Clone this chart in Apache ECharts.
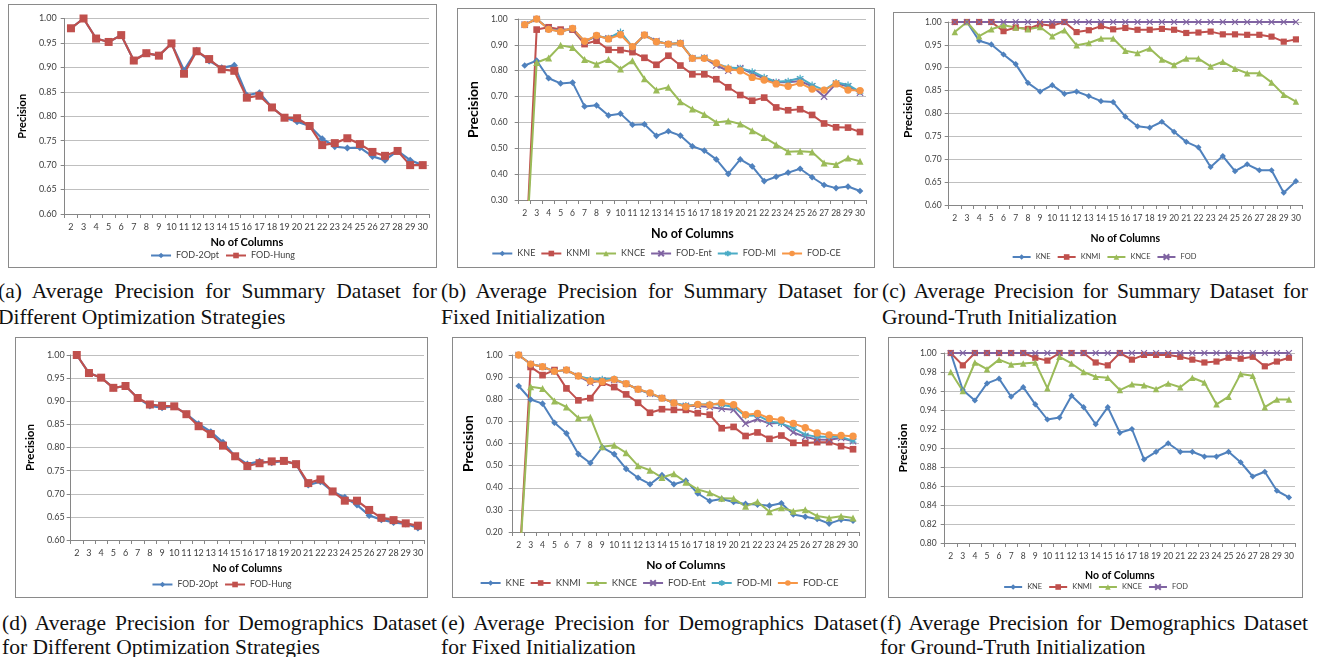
<!DOCTYPE html>
<html><head><meta charset="utf-8">
<script src="https://cdn.jsdelivr.net/npm/echarts@6/dist/echarts.min.js"></script>
<style>
body{margin:0;width:1318px;height:657px;background:#fff;position:relative;overflow:hidden}
.box{position:absolute;border:1px solid #8a8a8a;box-sizing:border-box;background:#fff}
.cap{position:absolute;font-family:"Liberation Serif","Tinos","DejaVu Serif",serif;font-size:21.5px;color:#111;line-height:24px;white-space:nowrap}
.j{text-align:justify;text-align-last:justify;white-space:normal}
</style></head><body>
<div id="pa" class="box" style="left:8px;top:4px;width:429px;height:264px"></div>
<div id="pb" class="box" style="left:457px;top:8px;width:418px;height:260px"></div>
<div id="pc" class="box" style="left:893px;top:12px;width:422px;height:256px"></div>
<div id="pd" class="box" style="left:15px;top:337px;width:413px;height:261px"></div>
<div id="pe" class="box" style="left:452px;top:337px;width:414px;height:261px"></div>
<div id="pf" class="box" style="left:888px;top:337px;width:415px;height:261px"></div>

<div class="cap j" style="left:-2px;top:279px;width:439px">(a) Average Precision for Summary Dataset for</div>
<div class="cap" style="left:-2px;top:305px">Different Optimization Strategies</div>
<div class="cap j" style="left:441px;top:279px;width:437px">(b) Average Precision for Summary Dataset for</div>
<div class="cap" style="left:441px;top:305px">Fixed Initialization</div>
<div class="cap j" style="left:882px;top:279px;width:426px">(c) Average Precision for Summary Dataset for</div>
<div class="cap" style="left:882px;top:305px">Ground-Truth Initialization</div>
<div class="cap j" style="left:2px;top:611px;width:435px">(d) Average Precision for Demographics Dataset</div>
<div class="cap" style="left:2px;top:635px">for Different Optimization Strategies</div>
<div class="cap j" style="left:441px;top:611px;width:437px">(e) Average Precision for Demographics Dataset</div>
<div class="cap" style="left:441px;top:635px">for Fixed Initialization</div>
<div class="cap j" style="left:880px;top:611px;width:428px">(f) Average Precision for Demographics Dataset</div>
<div class="cap" style="left:880px;top:635px">for Ground-Truth Initialization</div>

<script>
const categories = ['2','3','4','5','6','7','8','9','10','11','12','13','14','15','16','17','18','19','20','21','22','23','24','25','26','27','28','29','30'];

// (a) Summary dataset, optimization strategies
const aOpt  = [0.980,1.000,0.959,0.952,0.966,0.914,0.929,0.924,0.949,0.894,0.935,0.913,0.899,0.904,0.843,0.848,0.818,0.797,0.789,0.780,0.754,0.738,0.735,0.736,0.718,0.710,0.729,0.710,0.700];
const aHung = [0.980,1.000,0.959,0.952,0.966,0.914,0.929,0.924,0.949,0.887,0.933,0.917,0.896,0.893,0.838,0.842,0.818,0.797,0.796,0.780,0.741,0.745,0.755,0.743,0.727,0.719,0.729,0.700,0.700];

// (b) Summary dataset, fixed initialization
const bKNE  = [0.820,0.839,0.771,0.751,0.754,0.662,0.666,0.627,0.634,0.591,0.593,0.548,0.566,0.549,0.508,0.491,0.457,0.401,0.457,0.430,0.373,0.390,0.406,0.421,0.388,0.358,0.346,0.352,0.335];
const bKNMI = [0,0.959,0.968,0.959,0.959,0.903,0.916,0.881,0.880,0.872,0.850,0.823,0.858,0.820,0.786,0.786,0.767,0.736,0.706,0.684,0.696,0.658,0.647,0.651,0.629,0.596,0.581,0.580,0.563];
const bKNCE = [0,0.832,0.849,0.898,0.890,0.843,0.825,0.843,0.807,0.839,0.769,0.725,0.736,0.680,0.652,0.631,0.600,0.606,0.594,0.568,0.542,0.514,0.487,0.489,0.486,0.443,0.437,0.462,0.450];
const bEnt  = [0.978,1.000,0.962,0.953,0.962,0.912,0.934,0.925,0.945,0.891,0.938,0.915,0.902,0.907,0.848,0.850,0.820,0.800,0.810,0.790,0.770,0.755,0.755,0.760,0.740,0.700,0.750,0.740,0.715];
const bMI   = [0.978,1.000,0.961,0.952,0.963,0.913,0.935,0.926,0.950,0.892,0.937,0.914,0.903,0.908,0.849,0.851,0.828,0.812,0.810,0.797,0.775,0.757,0.760,0.772,0.745,0.725,0.755,0.745,0.718];
const bCE   = [0.978,1.000,0.960,0.951,0.964,0.914,0.936,0.923,0.939,0.893,0.938,0.912,0.903,0.906,0.848,0.848,0.830,0.807,0.800,0.774,0.764,0.749,0.740,0.752,0.729,0.725,0.749,0.725,0.723];

// (c) Summary dataset, ground-truth initialization
const cKNE  = [1.000,1.000,0.959,0.951,0.929,0.908,0.867,0.848,0.862,0.843,0.848,0.838,0.827,0.825,0.793,0.772,0.769,0.782,0.760,0.738,0.726,0.683,0.707,0.674,0.689,0.676,0.676,0.627,0.652];
const cKNMI = [1.000,1.000,1.000,1.000,0.980,0.988,0.985,0.995,0.992,1.000,0.978,0.982,0.991,0.984,0.987,0.983,0.983,0.985,0.983,0.976,0.977,0.979,0.973,0.973,0.972,0.972,0.968,0.957,0.962];
const cKNCE = [0.978,1.000,0.969,0.984,0.993,0.988,0.984,0.989,0.969,0.982,0.949,0.954,0.964,0.964,0.937,0.932,0.942,0.918,0.906,0.920,0.920,0.903,0.913,0.898,0.888,0.888,0.868,0.841,0.826];
const cFOD  = [1,1,1,1,1,1,1,1,1,1,1,1,1,1,1,1,1,1,1,1,1,1,1,1,1,1,1,1,1];

// (d) Demographics dataset, optimization strategies
const dOpt  = [1.000,0.961,0.951,0.929,0.933,0.907,0.890,0.886,0.889,0.872,0.851,0.834,0.811,0.781,0.764,0.770,0.767,0.771,0.764,0.719,0.726,0.705,0.692,0.676,0.653,0.644,0.638,0.635,0.626];
const dHung = [1.000,0.961,0.951,0.929,0.933,0.907,0.893,0.890,0.889,0.872,0.846,0.829,0.804,0.781,0.760,0.766,0.770,0.771,0.764,0.723,0.731,0.705,0.685,0.685,0.665,0.648,0.643,0.636,0.631];

// (e) Demographics dataset, fixed initialization
const eKNE  = [0.860,0.799,0.780,0.694,0.646,0.552,0.512,0.583,0.552,0.485,0.445,0.416,0.457,0.416,0.432,0.374,0.340,0.349,0.336,0.327,0.324,0.319,0.330,0.279,0.269,0.259,0.238,0.256,0.251];
const eKNMI = [0,0.946,0.909,0.932,0.849,0.795,0.805,0.875,0.855,0.822,0.784,0.739,0.755,0.752,0.752,0.737,0.730,0.669,0.675,0.634,0.650,0.621,0.636,0.603,0.602,0.606,0.606,0.588,0.574];
const eKNCE = [0,0.857,0.849,0.792,0.765,0.715,0.719,0.585,0.592,0.558,0.499,0.479,0.446,0.463,0.425,0.392,0.377,0.352,0.351,0.316,0.337,0.292,0.310,0.294,0.301,0.272,0.263,0.271,0.263];
const eEnt  = [1.000,0.959,0.947,0.926,0.932,0.905,0.875,0.886,0.887,0.870,0.845,0.825,0.805,0.783,0.770,0.770,0.765,0.757,0.752,0.690,0.710,0.690,0.694,0.650,0.630,0.618,0.617,0.625,0.610];
const eMI   = [1.000,0.959,0.947,0.926,0.932,0.905,0.890,0.891,0.892,0.870,0.845,0.827,0.805,0.783,0.772,0.775,0.778,0.775,0.765,0.725,0.727,0.700,0.690,0.670,0.640,0.630,0.630,0.630,0.612];
const eCE   = [1.000,0.959,0.947,0.926,0.932,0.905,0.882,0.879,0.890,0.870,0.845,0.829,0.805,0.783,0.766,0.777,0.774,0.784,0.775,0.730,0.736,0.713,0.706,0.691,0.671,0.648,0.639,0.636,0.633];

// (f) Demographics dataset, ground-truth initialization
const fKNE  = [1.000,0.961,0.950,0.968,0.973,0.954,0.964,0.946,0.930,0.932,0.955,0.943,0.925,0.943,0.916,0.920,0.888,0.896,0.905,0.896,0.896,0.891,0.891,0.896,0.885,0.870,0.875,0.855,0.848];
const fKNMI = [1.000,0.987,1.000,1.000,1.000,1.000,1.000,0.995,0.992,1.000,1.000,1.000,0.990,0.987,1.000,0.993,0.998,0.998,0.998,0.996,0.993,0.990,0.991,0.995,0.994,0.996,0.986,0.991,0.995];
const fKNCE = [0.980,0.960,0.990,0.983,0.993,0.988,0.989,0.990,0.963,0.996,0.989,0.980,0.975,0.974,0.961,0.967,0.966,0.962,0.968,0.964,0.974,0.969,0.946,0.954,0.978,0.976,0.943,0.951,0.951];
const fFOD  = [1,1,1,1,1,1,1,1,1,1,1,1,1,1,1,1,1,1,1,1,1,1,1,1,1,1,1,1,1];

const X_PATH = 'path://M0,0L10,10M0,10L10,0';
const STAR_PATH = 'path://M5,0L5,10M0,2.5L10,7.5M0,7.5L10,2.5';
const STYLES = {
  'FOD-2Opt': {color:'#4F81BD', symbol:'diamond', k:0.9},
  'FOD-Hung': {color:'#C0504D', symbol:'rect', k:1},
  'KNE':  {color:'#4F81BD', symbol:'diamond', k:0.95},
  'KNMI': {color:'#C0504D', symbol:'rect', k:0.95},
  'KNCE': {color:'#9BBB59', symbol:'triangle', k:1},
  'FOD-Ent': {color:'#8064A2', symbol:X_PATH, k:0.9, stroke:true},
  'FOD-MI':  {color:'#4BACC6', symbol:STAR_PATH, k:0.95, stroke:true},
  'FOD-CE':  {color:'#F79646', symbol:'circle', k:1.05},
  'FOD':     {color:'#8064A2', symbol:X_PATH, k:0.9, stroke:true}
};
const FONT = 'Lato, "Open Sans", sans-serif';

function panel(id, p) {
  const chart = echarts.init(document.getElementById(id), null, {renderer:'canvas'});
  const series = p.series.map(s => {
    const st = STYLES[s.name];
    return {
      name: s.name, type: 'line', data: s.data,
      symbol: st.symbol, symbolSize: p.sym * st.k, showSymbol: true,
      lineStyle: {color: st.color, width: p.lw},
      itemStyle: st.stroke ? {color: st.color, borderColor: st.color, borderWidth: 1.2} : {color: st.color},
      emphasis: {disabled: true}, clip: true, animation: false
    };
  });
  chart.setOption({
    animation: false,
    textStyle: {fontFamily: FONT},
    grid: {left: p.grid[0], top: p.grid[1], width: p.grid[2], height: p.grid[3], containLabel: false},
    legend: {
      top: p.legendTop, left: 'center', itemWidth: p.legendW, itemHeight: p.legendH || 7, itemGap: p.legendGap,
      textStyle: {fontSize: p.legendFs, color: '#404040', fontFamily: FONT},
      data: p.series.map(s => s.name)
    },
    xAxis: {
      type: 'category', data: categories, boundaryGap: true,
      name: 'No of Columns', nameLocation: 'middle', nameGap: p.xGap,
      nameTextStyle: {fontSize: p.titleFsX, fontWeight: 'bold', color: '#000', fontFamily: FONT},
      axisLine: {show: true, lineStyle: {color: '#868686', width: 1}},
      axisTick: {show: true, length: 4, interval: 0, lineStyle: {color: '#868686'}},
      axisLabel: {interval: 0, fontSize: p.tickFs, color: '#404040', margin: p.xMargin || 9, fontFamily: FONT},
      splitLine: {show: false}
    },
    yAxis: {
      type: 'value', min: p.y[0], max: p.y[1], interval: p.y[2],
      name: 'Precision', nameLocation: 'middle', nameGap: p.yGap,
      nameTextStyle: {fontSize: p.titleFsY, fontWeight: 'bold', color: '#000', fontFamily: FONT},
      axisLine: {show: true, lineStyle: {color: '#868686', width: 1}},
      axisTick: {show: true, length: 4, lineStyle: {color: '#868686'}},
      axisLabel: {fontSize: p.tickFs, color: '#404040', margin: p.yMargin || 8, fontFamily: FONT,
                  formatter: v => v.toFixed(2)},
      splitLine: {show: true, lineStyle: {color: '#BFBFBF', width: 1}}
    },
    series: series
  });
}

panel('pa', {grid:[47,13.5,373,195.5], y:[0.6,1.0,0.05], sym:8, lw:2.2, tickFs:9, titleFsX:11, titleFsY:11,
  xGap:21, yGap:26, yMargin:8, legendTop:241, legendFs:9, legendW:20, legendGap:6,
  series:[{name:'FOD-2Opt', data:aOpt},{name:'FOD-Hung', data:aHung}]});
panel('pb', {grid:[51,10,357,181], y:[0.3,1.0,0.1], sym:7, lw:2, tickFs:8.5, titleFsX:12.5, titleFsY:14,
  xGap:27, yGap:28, yMargin:11, legendTop:235, legendFs:9, legendW:20, legendGap:5,
  series:[{name:'KNE', data:bKNE},{name:'KNMI', data:bKNMI},{name:'KNCE', data:bKNCE},
          {name:'FOD-Ent', data:bEnt},{name:'FOD-MI', data:bMI},{name:'FOD-CE', data:bCE}]});
panel('pc', {grid:[46,9,362,183], y:[0.6,1.0,0.05], sym:6.5, lw:2, tickFs:8.5, titleFsX:10.5, titleFsY:12,
  xGap:28, yGap:26, yMargin:7, legendTop:235, legendFs:7.5, legendW:18, legendGap:6,
  series:[{name:'KNE', data:cKNE},{name:'KNMI', data:cKNMI},{name:'KNCE', data:cKNCE},{name:'FOD', data:cFOD}]});
panel('pd', {grid:[35,17,373,185], y:[0.6,1.0,0.05], sym:8, lw:2.2, tickFs:9, titleFsX:10.5, titleFsY:11.5,
  xGap:19, yGap:21, yMargin:6, legendTop:237, legendFs:8.5, legendW:20, legendGap:6,
  series:[{name:'FOD-2Opt', data:dOpt},{name:'FOD-Hung', data:dHung}]});
panel('pe', {grid:[54,17,352,177], y:[0.2,1.0,0.1], sym:7, lw:2, tickFs:8.5, titleFsX:12, titleFsY:14,
  xGap:27, yGap:31, yMargin:10, legendTop:235, legendFs:9.5, legendW:20, legendGap:5,
  series:[{name:'KNE', data:eKNE},{name:'KNMI', data:eKNMI},{name:'KNCE', data:eKNCE},
          {name:'FOD-Ent', data:eEnt},{name:'FOD-MI', data:eMI},{name:'FOD-CE', data:eCE}]});
panel('pf', {grid:[45,15,361,190], y:[0.8,1.0,0.02], sym:6.5, lw:2, tickFs:8.5, titleFsX:10.5, titleFsY:12,
  xGap:27, yGap:30, yMargin:8, legendTop:240, legendFs:7.5, legendW:18, legendGap:6,
  series:[{name:'KNE', data:fKNE},{name:'KNMI', data:fKNMI},{name:'KNCE', data:fKNCE},{name:'FOD', data:fFOD}]});
</script>
</body></html>
